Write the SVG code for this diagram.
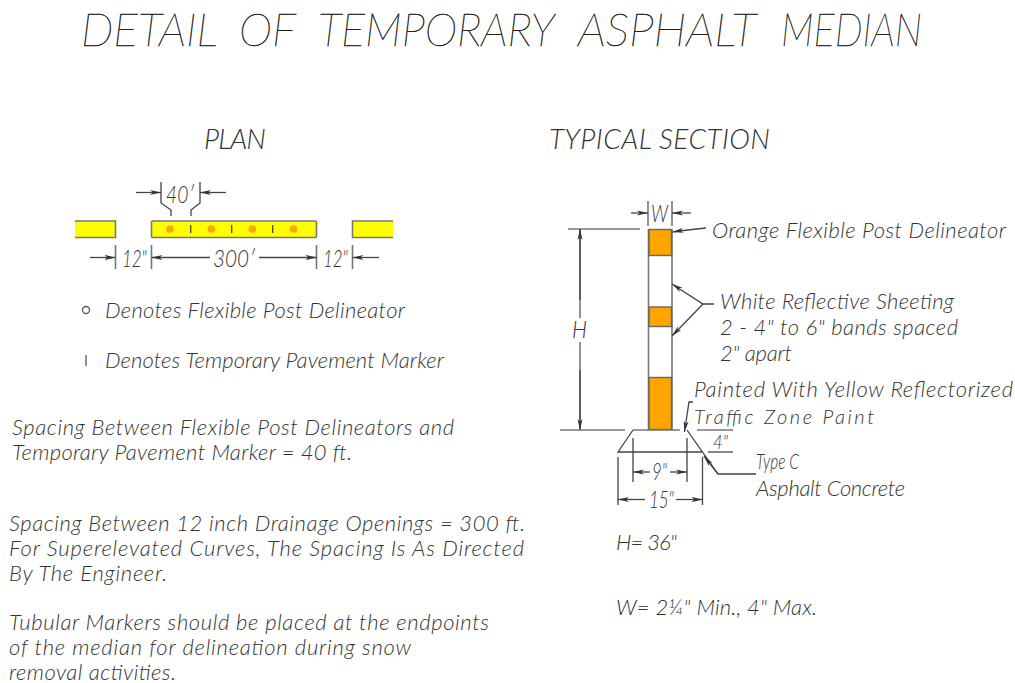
<svg xmlns="http://www.w3.org/2000/svg" width="1015" height="683" viewBox="0 0 1015 683">
<style>
text{font-family:"Lato","Open Sans","Liberation Sans",sans-serif;font-style:italic;font-weight:300;fill:#333}
.t{font-size:47px;font-weight:200;fill:#222;stroke:#222;stroke-width:.5}
.n{font-size:22px}
.d{font-size:23px}
.h{font-size:28px}
.l{fill:none;stroke:#444;stroke-width:1.3}
.g{fill:none;stroke:#777;stroke-width:1.6}
.a{fill:none;stroke:#444;stroke-width:1.3;marker-end:url(#ar)}
.y{fill:#ffff00;stroke:#777;stroke-width:1.6}
.o{fill:#ffa500;stroke:#666;stroke-width:1.4}
</style>
<defs><marker id="ar" markerUnits="userSpaceOnUse" markerWidth="12" markerHeight="8" refX="11" refY="4" orient="auto"><path d="M0 1.5L11 4L0 6.5L3 4Z" fill="#333"/></marker></defs>
<rect width="1015" height="683" fill="#fff"/>
<g id="title"><text class="t" y="46"><tspan x="81" textLength="135" lengthAdjust="spacingAndGlyphs">DETAIL</tspan> <tspan x="239" textLength="56" lengthAdjust="spacingAndGlyphs">OF</tspan> <tspan x="318" textLength="235" lengthAdjust="spacingAndGlyphs">TEMPORARY</tspan> <tspan x="578" textLength="177" lengthAdjust="spacingAndGlyphs">ASPHALT</tspan> <tspan x="781" textLength="141" lengthAdjust="spacingAndGlyphs">MEDIAN</tspan></text></g>
<g id="heads"><text class="h" x="204" y="149" textLength="62">PLAN</text><text class="h" x="549" y="149" textLength="221">TYPICAL SECTION</text></g>
<g id="plan">
<path class="y" d="M75 221H115.500V237.500H75"/>
<rect class="y" x="151.500" y="221" width="165" height="16.500" rx="1"/>
<path class="y" d="M393 221H352.500V237.500H393"/>
<g fill="#ffa500"><circle cx="170" cy="229" r="3.800"/><circle cx="211.300" cy="229" r="3.800"/><circle cx="252.300" cy="229" r="3.800"/><circle cx="293.500" cy="229" r="3.800"/></g>
<g class="l"><path d="M190.700 225V233M231.700 225V233M272.700 225V233"/></g>
<g class="l"><path d="M161 182V203L171 210V216M200 182V203L191 210V216"/></g>
<path class="a" d="M136 192.500H161"/><path class="a" d="M226 192.500H200"/>
<text class="d" x="166" y="203" textLength="28" lengthAdjust="spacingAndGlyphs">40′</text>
<g class="g"><path d="M115.500 245V269M151.500 245V269M316.500 245V269M352.500 245V269"/></g>
<path class="a" d="M90 257.500H115.500"/><path class="a" d="M210 257.500H151.500"/><path class="a" d="M259 257.500H316.500"/><path class="a" d="M379 257.500H352.500"/>
<text class="d" x="122" y="267" textLength="25" lengthAdjust="spacingAndGlyphs">12"</text><text class="d" x="213" y="267" textLength="42" lengthAdjust="spacingAndGlyphs">300′</text><text class="d" x="323" y="267" textLength="25" lengthAdjust="spacingAndGlyphs">12"</text>
</g>
<g id="legend">
<circle cx="86" cy="310" r="3.500" fill="none" stroke="#555" stroke-width="1.300"/>
<path class="g" d="M86 355V366"/>
<text class="n" x="105" y="318" textLength="300">Denotes Flexible Post Delineator</text>
<text class="n" x="105" y="368" textLength="339">Denotes Temporary Pavement Marker</text>
</g>
<g id="notes">
<text class="n" x="12" y="435" textLength="442">Spacing Between Flexible Post Delineators and</text>
<text class="n" x="12" y="460" textLength="340">Temporary Pavement Marker = 40 ft.</text>
<text class="n" x="9" y="531" textLength="516">Spacing Between 12 inch Drainage Openings = 300 ft.</text>
<text class="n" x="9" y="556" textLength="515">For Superelevated Curves, The Spacing Is As Directed</text>
<text class="n" x="9" y="581" textLength="158">By The Engineer.</text>
<text class="n" x="9" y="630" textLength="480">Tubular Markers should be placed at the endpoints</text>
<text class="n" x="9" y="655" textLength="402">of the median for delineation during snow</text>
<text class="n" x="9" y="680" textLength="167">removal activities.</text>
</g>
<g id="post">
<path class="g" d="M648.500 229V430M672 229V430"/>
<rect class="o" x="649" y="229.500" width="22.500" height="26"/>
<rect class="o" x="649" y="307" width="22.500" height="19.500"/>
<rect class="o" x="649" y="377.500" width="22.500" height="52"/>
</g>
<g id="base" class="l">
<path d="M702.300 452H618L633 430"/>
</g>
<g id="connectors">
<path class="g" d="M568 229H640M580 229V318M580 342V430"/>
<path class="a" d="M580 300V229"/><path class="a" d="M580 370V430"/>
<path class="g" d="M560 430H625M633 430H680M697 430H733"/>
<path class="l" d="M708 452H733"/>
<path class="g" d="M648 201V226M672 201V226"/>
<path class="a" d="M631 213H648"/><path class="a" d="M691 213H672"/>
<path class="a" d="M706 228C695 229 685 230 672.500 232"/>
<path class="a" d="M714 304H703L672 284"/><path class="a" d="M703 304L672 336"/>
<path class="a" d="M693 402H689L684.500 432"/>
<path class="l" d="M687 430L718 474H756"/>
<path class="a" d="M718 474L704 456"/>
<path class="l" d="M633 438V482M687 438V482M618 457V505M702.500 457V505"/>
<path class="a" d="M650 472H633"/><path class="a" d="M670 472H687"/>
<path class="a" d="M645 499.500H618"/><path class="a" d="M676 499.500H702.500"/>
</g>
<g id="labels">
<text class="d" x="651" y="222" textLength="17" lengthAdjust="spacingAndGlyphs">W</text>
<text class="d" x="572" y="338" textLength="15" lengthAdjust="spacingAndGlyphs">H</text>
<text class="n" x="712" y="238" textLength="294">Orange Flexible Post Delineator</text>
<text class="n" x="720" y="309" textLength="234">White Reflective Sheeting</text>
<text class="n" x="720" y="335" textLength="238">2 - 4" to 6" bands spaced</text>
<text class="n" x="720" y="361" textLength="72">2" apart</text>
<text class="n" x="694" y="397" textLength="319">Painted With Yellow Reflectorized</text>
<text x="694" y="424" textLength="180" style="font-size:20px">Traffic Zone Paint</text>
<text x="713" y="449" textLength="15" lengthAdjust="spacingAndGlyphs" style="font-size:19px">4"</text>
<text class="d" x="652" y="480" textLength="15" lengthAdjust="spacingAndGlyphs">9"</text>
<text class="d" x="649" y="508" textLength="25" lengthAdjust="spacingAndGlyphs">15"</text>
<text class="n" x="756" y="469" textLength="43" lengthAdjust="spacingAndGlyphs">Type C</text>
<text class="n" x="756" y="496" textLength="149">Asphalt Concrete</text>
<text class="n" x="616" y="550" textLength="61">H= 36"</text>
<text class="n" x="616" y="615" textLength="201">W= 2¼" Min., 4" Max.</text>
</g>
</svg>
